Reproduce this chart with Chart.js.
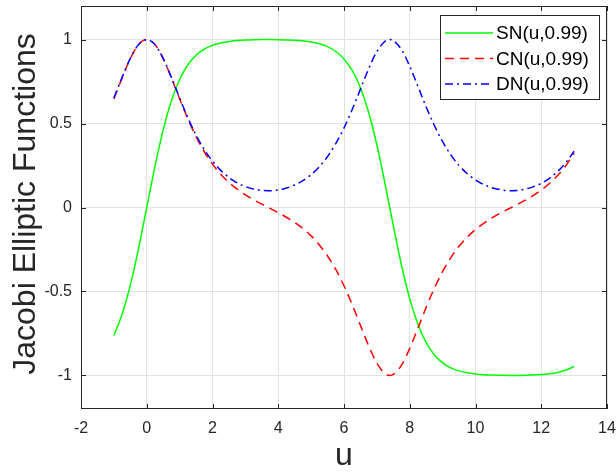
<!DOCTYPE html>
<html>
<head>
<meta charset="utf-8">
<script src="https://cdn.jsdelivr.net/npm/chart.js@4"></script>
<style>
  html, body { margin: 0; padding: 0; background: #fff; }
  #wrap { width: 616px; height: 472px; }
</style>
</head>
<body>
<div id="wrap"><canvas id="jacobiChart" width="616" height="472"></canvas></div>
<script>
// sample points u
const uVals = [-1, -0.75, -0.5, -0.25, 0, 0.25, 0.5, 0.75, 1, 1.25, 1.5, 1.75,
    2, 2.25, 2.5, 2.75, 3, 3.25, 3.5, 3.7, 3.75, 4, 4.25, 4.5, 4.75, 5, 5.25, 5.5,
    5.75, 6, 6.25, 6.5, 6.75, 7, 7.25, 7.39, 7.5, 7.75, 8, 8.25, 8.5, 8.75, 9,
    9.25, 9.5, 9.75, 10, 10.25, 10.5, 10.75, 11, 11.09, 11.25, 11.5, 11.75, 12,
    12.25, 12.5, 12.75, 13];

const snVals = [-0.762, -0.636, -0.462, -0.245, 0, 0.245, 0.462, 0.636, 0.762, 0.850, 0.907, 0.943,
    0.966, 0.980, 0.989, 0.994, 0.997, 0.999, 1.000, 1.000, 1.000, 0.9995, 0.998, 0.996, 0.992, 0.986, 0.975, 0.958,
    0.929, 0.885, 0.816, 0.713, 0.566, 0.372, 0.140, 0, -0.108, -0.344, -0.544, -0.696, -0.805, -0.878, -0.925,
    -0.955, -0.973, -0.984, -0.991, -0.996, -0.998, -0.999, -1.000, -1.000, -1.000, -0.999, -0.997, -0.995,
    -0.990, -0.982, -0.968, -0.947];

const cnVals = [0.647, 0.772, 0.887, 0.970, 1, 0.970, 0.887, 0.772, 0.647, 0.528, 0.422, 0.332,
    0.258, 0.198, 0.149, 0.109, 0.075, 0.046, 0.020, 0, -0.005, -0.031, -0.058, -0.089, -0.125, -0.169, -0.223, -0.289,
    -0.369, -0.466, -0.578, -0.702, -0.824, -0.928, -0.990, -1, -0.994, -0.939, -0.839, -0.718, -0.594, -0.480, -0.381,
    -0.298, -0.231, -0.176, -0.131, -0.094, -0.062, -0.034, -0.009, 0, 0.016, 0.042, 0.071, 0.104,
    0.143, 0.191, 0.250, 0.322];

const dnVals = [0.652, 0.775, 0.888, 0.970, 1, 0.970, 0.888, 0.775, 0.652, 0.534, 0.431, 0.345,
    0.276, 0.221, 0.179, 0.147, 0.125, 0.110, 0.102, 0.100, 0.100, 0.105, 0.116, 0.134, 0.160, 0.196, 0.243, 0.304,
    0.381, 0.474, 0.584, 0.705, 0.826, 0.929, 0.990, 1, 0.994, 0.940, 0.841, 0.721, 0.599, 0.488, 0.392,
    0.313, 0.250, 0.201, 0.164, 0.137, 0.118, 0.106, 0.100, 0.100, 0.101, 0.109, 0.123, 0.144,
    0.174, 0.215, 0.268, 0.335];

const seriesLabels = ["SN(u,0.99)", "CN(u,0.99)", "DN(u,0.99)"];
const xTickVals = [-2, 0, 2, 4, 6, 8, 10, 12, 14];
const yTickVals = [-1, -0.5, 0, 0.5, 1];

const FONT = '"Liberation Sans", Arial, sans-serif';
const AXIS_COLOR = "#262626";

function toPoints(ys) {
    return uVals.map((u, i) => ({ x: u, y: ys[i] }));
}

// box, inward ticks, legend and axis titles, MATLAB style
const framePlugin = {
    id: "frame",
    afterDraw(chart) {
        const ctx = chart.ctx;
        const a = chart.chartArea;
        const xs = chart.scales.x;
        const ys = chart.scales.y;
        const tl = 5;
        ctx.save();

        ctx.strokeStyle = AXIS_COLOR;
        ctx.lineWidth = 1;
        ctx.beginPath();
        xTickVals.forEach(v => {
            const px = Math.round(xs.getPixelForValue(v)) + 0.5;
            ctx.moveTo(px, a.bottom); ctx.lineTo(px, a.bottom - tl);
            ctx.moveTo(px, a.top); ctx.lineTo(px, a.top + tl);
        });
        yTickVals.forEach(v => {
            const py = Math.round(ys.getPixelForValue(v)) + 0.5;
            ctx.moveTo(a.left, py); ctx.lineTo(a.left + tl, py);
            ctx.moveTo(a.right, py); ctx.lineTo(a.right - tl, py);
        });
        ctx.stroke();
        ctx.strokeRect(Math.round(a.left) + 0.5, Math.round(a.top) + 0.5,
            Math.round(a.right - a.left) - 1, Math.round(a.bottom - a.top) - 1);

        // legend
        const lx = 440.5, ly = 15.5, lw = 159, lh = 84;
        ctx.fillStyle = "#fff";
        ctx.fillRect(lx, ly, lw, lh);
        ctx.strokeStyle = AXIS_COLOR;
        ctx.strokeRect(lx, ly, lw, lh);
        chart.data.datasets.forEach((ds, i) => {
            const y = 33 + i * 25.5;
            ctx.strokeStyle = ds.borderColor;
            ctx.lineWidth = ds.borderWidth;
            ctx.setLineDash(ds.borderDash || []);
            ctx.beginPath();
            ctx.moveTo(445, y); ctx.lineTo(493, y);
            ctx.stroke();
            ctx.setLineDash([]);
            ctx.fillStyle = "#000";
            ctx.font = "19px " + FONT;
            ctx.textAlign = "left";
            ctx.textBaseline = "middle";
            ctx.fillText(ds.label, 496, y + 1);
        });

        // axis titles
        ctx.fillStyle = "#262626";
        ctx.font = "32px " + FONT;
        ctx.textAlign = "center";
        ctx.textBaseline = "alphabetic";
        ctx.fillText("u", (a.left + a.right) / 2, 465);
        ctx.translate(35, 204);
        ctx.rotate(-Math.PI / 2);
        ctx.fillText("Jacobi Elliptic Functions", 0, 0);
        ctx.restore();
    }
};

const ctx = document.getElementById("jacobiChart");

new Chart(ctx, {
    type: "line",
    data: {
        datasets: [{
            label: seriesLabels[0],
            data: toPoints(snVals),
            borderColor: "#00ff00",
            borderWidth: 1.5,
            order: 2
        }, {
            label: seriesLabels[1],
            data: toPoints(cnVals),
            borderColor: "#ff0000",
            borderWidth: 1.5,
            borderDash: [9, 6],
            order: 1
        }, {
            label: seriesLabels[2],
            data: toPoints(dnVals),
            borderColor: "#0000ff",
            borderWidth: 1.5,
            borderDash: [8, 4, 2, 4],
            order: 0
        }]
    },
    options: {
        responsive: false,
        animation: false,
        events: [],
        layout: { padding: { top: 6, right: 9, left: 0, bottom: 0 } },
        elements: {
            point: { radius: 0 },
            line: { cubicInterpolationMode: "monotone", fill: false }
        },
        plugins: {
            legend: { display: false },
            tooltip: { enabled: false }
        },
        scales: {
            x: {
                type: "linear",
                min: -2,
                max: 14,
                afterFit: s => { s.height = 63; s.paddingLeft = 0; s.paddingRight = 0; },
                afterBuildTicks: s => { s.ticks = xTickVals.map(v => ({ value: v })); },
                grid: { color: "#e3e3e3", drawTicks: false },
                border: { display: false },
                ticks: {
                    padding: 10,
                    color: AXIS_COLOR,
                    font: { family: FONT, size: 16 },
                    callback: v => String(v)
                }
            },
            y: {
                type: "linear",
                min: -1.2,
                max: 1.2,
                afterFit: s => { s.width = 81; s.paddingTop = 0; s.paddingBottom = 0; },
                afterBuildTicks: s => { s.ticks = yTickVals.map(v => ({ value: v })); },
                grid: { color: "#e3e3e3", drawTicks: false },
                border: { display: false },
                ticks: {
                    padding: 9,
                    color: AXIS_COLOR,
                    font: { family: FONT, size: 16 },
                    callback: v => String(v)
                }
            }
        }
    },
    plugins: [framePlugin]
});
</script>
</body>
</html>
